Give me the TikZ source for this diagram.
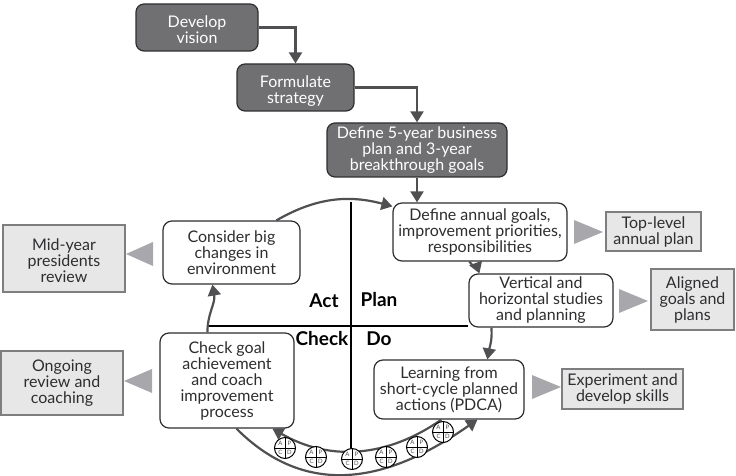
\documentclass[tikz,border=0pt]{standalone}
\usepackage{fontspec}
\setmainfont{Lato}
\usetikzlibrary{arrows.meta,calc}
\definecolor{darkbox}{HTML}{707072}
\definecolor{ink}{HTML}{2E2E30}
\definecolor{flowline}{HTML}{505052}
\definecolor{palebox}{HTML}{E7E7E8}
\definecolor{paleedge}{HTML}{7E7E80}
\definecolor{pointer}{HTML}{A8A8AC}
\newcommand{\lowline}[1]{\rule{0pt}{#1}}
\tikzset{
  basebox/.style={rectangle,inner sep=0pt,align=center,text=ink,font=\fontsize{16}{16}\selectfont},
  whitebox/.style={basebox,draw=ink,line width=1.2pt,fill=white,rounded corners=9pt},
  darkstep/.style={basebox,draw=ink,line width=1.2pt,fill=darkbox,rounded corners=8pt,text=white},
  outbox/.style={basebox,draw=paleedge,line width=1.6pt,fill=palebox},
  flow/.style={draw=flowline,line width=2.2pt,-{Triangle[length=11pt,width=13pt]}},
  quadname/.style={font=\fontsize{19}{19}\selectfont\bfseries,text=black,inner sep=0pt},
  wheel/.style={circle,draw=black,line width=1pt,fill=white,minimum size=21pt,inner sep=0pt},
  wheelletter/.style={font=\fontsize{6}{6}\selectfont,text=flowline,inner sep=0pt},
}
\begin{document}
\begin{tikzpicture}[x=1pt,y=1pt]
\useasboundingbox (0,0) rectangle (736,476);
% strategy steps
\node[darkstep,minimum width=122,minimum height=47](vision) at (197,448.5){\lowline{17pt}Develop\\vision};
\node[darkstep,minimum width=117,minimum height=47](strategy) at (295.5,388.5){\lowline{19pt}Formulate\\strategy};
\node[darkstep,minimum width=180,minimum height=54](business) at (417,326){Define 5-year business\\plan and 3-year\\breakthrough goals};
% cycle steps
\node[whitebox,minimum width=174,minimum height=58](annual) at (480,244){Define annual goals,\\improvement priorities,\\responsibilities};
\node[whitebox,minimum width=144,minimum height=53](studies) at (541,175.5){Vertical and\\horizontal studies\\and planning};
\node[whitebox,minimum width=150,minimum height=59](learning) at (449,86.5){Learning from\\short-cycle planned\\actions (PDCA)};
\node[whitebox,minimum width=137,minimum height=63](consider) at (231.5,223.5){Consider big\\changes in\\environment};
\node[whitebox,minimum width=134,minimum height=95](check) at (227,95.5){Check goal\\achievement\\and coach\\improvement\\process};
% outputs
\node[outbox,minimum width=122,minimum height=67](midyear) at (64,217.5){\lowline{16pt}Mid-year\\presidents\\review};
\node[outbox,minimum width=122,minimum height=64](ongoing) at (62,93){Ongoing\\review and\\coaching};
\node[outbox,minimum width=95,minimum height=39](toplevel) at (653.5,244.5){Top-level\\annual plan};
\node[outbox,minimum width=83,minimum height=61](aligned) at (692.5,176.5){Aligned\\goals and\\plans};
\node[outbox,minimum width=121,minimum height=40](experiment) at (622.5,87){Experiment and\\develop skills};
% quadrants
\coordinate(axistop) at (351,274);
\coordinate(axisbottom) at (351,28);
\coordinate(axisleft) at (208,150);
\draw[line width=1.2pt,black](axistop)--(axisbottom);
\draw[line width=1.7pt,black](axisleft)--(axisleft-|studies.west);
\node[quadname](act) at (324,175){Act};
\node[quadname](plan) at (379,176){Plan};
\node[quadname](chk) at (322,137){Check};
\node[quadname](do) at (379,137){Do};
% connectors
\draw[flow](vision.east)-|(strategy.north);
\draw[flow](strategy.east)-|(business.north);
\draw[flow](business.south)--(business.south|-annual.north);
\draw[flow]([xshift=114]consider.north west) to [out=30,in=165]([yshift=-4]annual.north west);
\draw[flow]([xshift=77]annual.south west) to [out=-60,in=110]([xshift=11]studies.north west);
\draw[flow]([xshift=23]studies.south west) to [out=-85,in=80]([xshift=114]learning.north west);
\draw[flow]([xshift=68]learning.south west) to [out=215,in=-30]([xshift=113]check.south west);
\draw[flow]([xshift=77]check.south west) to [out=-45,in=215,looseness=1.1]([xshift=104]learning.south west);
\draw[flow]([xshift=48]check.north west) to [out=90,in=-80]([xshift=50]consider.south west);
% grey pointers
\foreach \x/\y/\d in {153/222/-27,152/95/-28,574/244/29,619/175/29,532/89/29}{
  \fill[pointer](\x,\y+12)--(\x+\d,\y)--(\x,\y-12)--cycle;
}
% small pdca wheels
\foreach \x/\y [count=\i] in {285/28,316/19,352/17,386/19,417/29,443/44}{
  \node[wheel](pdca\i) at (\x,\y){};
  \draw[line width=0.8pt,black](pdca\i.north)--(pdca\i.south);
  \draw[line width=0.8pt,black](pdca\i.west)--(pdca\i.east);
  \node[wheelletter](pdca\i a) at (\x-4.5,\y+4.5){A};
  \node[wheelletter](pdca\i p) at (\x+4.5,\y+4.5){P};
  \node[wheelletter](pdca\i c) at (\x-4.5,\y-4.5){C};
  \node[wheelletter](pdca\i d) at (\x+4.5,\y-4.5){D};
}
\end{tikzpicture}
\end{document}
